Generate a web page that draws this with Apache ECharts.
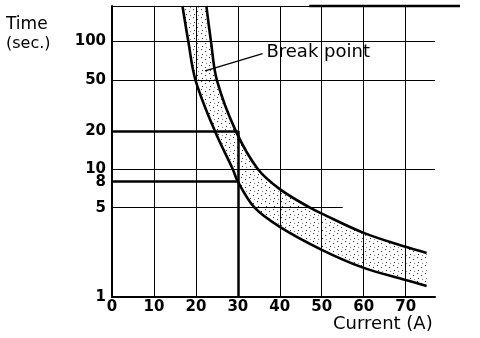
<!DOCTYPE html>
<html>
<head>
<meta charset="utf-8">
<script src="https://cdn.jsdelivr.net/npm/echarts@6/dist/echarts.min.js"></script>
<style>
  html, body { margin: 0; padding: 0; background: #fff; }
  #chart { width: 480px; height: 338px; }
</style>
</head>
<body>
<div id="chart"></div>
<script>
// Fuse / breaker trip band: time to trip versus current.
const currentTicks = [0, 10, 20, 30, 40, 50, 60, 70];
const timeTicks = [1, 5, 8, 10, 20, 50, 100];

// Fast (lower) and slow (upper) edges of the trip band: [current A, time s]
const lowerCurve = [[16.8, 190], [18.2, 100], [19.9, 50], [24.5, 20], [28.8, 10], [30, 8],
                    [34, 5], [40, 3.54], [50, 2.34], [60, 1.69], [70, 1.36], [75, 1.22]];
const upperCurve = [[22.5, 190], [23.6, 100], [25, 50], [29.5, 20], [34.8, 10], [40, 7.0],
                    [47.2, 5], [50, 4.5], [60, 3.18], [70, 2.47], [75, 2.21]];

// Break-point readings at 30 A
const breakCurrent = 30;
const breakTimeSlow = 20;
const breakTimeFast = 8;

const X_MIN = 0, X_MAX = 77, Y_MIN = 1, Y_MAX = 190;

const FONT = 'DejaVu Sans';
const INK = '#000';

// stipple texture for the band
const tex = document.createElement('canvas');
tex.width = 8; tex.height = 8;
const tctx = tex.getContext('2d');
tctx.fillStyle = '#333';
tctx.fillRect(1, 1, 1, 1);
tctx.fillRect(5, 3, 1, 1);
tctx.fillRect(2, 6, 1, 1);
tctx.fillStyle = '#888';
tctx.fillRect(6, 7, 1, 1);
const stipple = { image: tex, repeat: 'repeat' };

// grid segments
function hLine(y, x0, x1, w) {
  return [{ coord: [x0, y], lineStyle: { width: w } }, { coord: [x1, y] }];
}
function vLine(x, y0, y1, w) {
  return [{ coord: [x, y0], lineStyle: { width: w } }, { coord: [x, y1] }];
}
const gridLines = [];
[100, 50, 10].forEach(t => gridLines.push(hLine(t, X_MIN, X_MAX, 1)));
gridLines.push(hLine(Y_MAX, X_MIN, X_MAX, 1));
gridLines.push(hLine(5, X_MIN, 55, 1));
gridLines.push(hLine(breakTimeSlow, X_MIN, breakCurrent, 2.5));
gridLines.push(hLine(breakTimeFast, X_MIN, breakCurrent, 2.5));
currentTicks.filter(c => c > 0 && c !== breakCurrent)
  .forEach(c => gridLines.push(vLine(c, Y_MIN, Y_MAX, 1)));
gridLines.push(vLine(breakCurrent, breakTimeSlow, Y_MAX, 1));
gridLines.push(vLine(breakCurrent, Y_MIN, breakTimeSlow, 2.5));

const chart = echarts.init(document.getElementById('chart'), null, { renderer: 'canvas' });

const titles = [
  { type: 'text', left: 6, top: 16, style: { text: 'Time', font: '17px "DejaVu Sans"', fill: INK } },
  { type: 'text', left: 6, top: 36, style: { text: '(sec.)', font: '16px "DejaVu Sans"', fill: INK } },
  { type: 'text', left: 333, top: 315, style: { text: 'Current (A)', font: '18px "DejaVu Sans"', fill: INK } }
];

const option = {
  animation: false,
  backgroundColor: '#fff',
  grid: { left: 112, right: 45, top: 6, bottom: 41 },
  xAxis: {
    type: 'value', min: X_MIN, max: X_MAX,
    axisLine: { show: true, lineStyle: { color: INK, width: 2 } },
    axisTick: { show: false },
    splitLine: { show: false },
    axisLabel: {
      customValues: currentTicks,
      margin: 3,
      color: INK, fontFamily: FONT, fontWeight: 'bold', fontSize: 15
    }
  },
  yAxis: {
    type: 'log', logBase: 10, min: Y_MIN, max: Y_MAX,
    axisLine: { show: true, lineStyle: { color: INK, width: 2 } },
    axisTick: { show: false },
    splitLine: { show: false },
    minorSplitLine: { show: false },
    axisLabel: {
      customValues: timeTicks,
      margin: 6,
      color: INK, fontFamily: FONT, fontWeight: 'bold', fontSize: 15
    }
  },
  series: [
    {
      name: 'band',
      type: 'custom',
      coordinateSystem: 'cartesian2d',
      silent: true,
      z: 1,
      data: [[X_MIN, Y_MIN]],
      renderItem: function (params, api) {
        const pts = lowerCurve.map(p => api.coord(p))
          .concat(upperCurve.slice().reverse().map(p => api.coord(p)));
        return { type: 'polygon', shape: { points: pts }, style: { fill: stipple, stroke: null } };
      }
    },
    {
      name: 'grid',
      type: 'line',
      data: [],
      silent: true,
      z: 2,
      markLine: {
        silent: true,
        symbol: ['none', 'none'],
        label: { show: false },
        lineStyle: { color: INK, type: 'solid', width: 1 },
        data: gridLines
      }
    },
    {
      name: 'lower',
      type: 'line',
      data: lowerCurve,
      smooth: 0.35,
      showSymbol: false,
      z: 3,
      lineStyle: { color: INK, width: 2.6 }
    },
    {
      name: 'upper',
      type: 'line',
      data: upperCurve,
      smooth: 0.35,
      showSymbol: false,
      z: 3,
      lineStyle: { color: INK, width: 2.6 },
      markLine: {
        silent: true,
        symbol: ['circle', 'none'],
        symbolSize: [5, 0],
        lineStyle: { color: INK, type: 'solid', width: 1.2 },
        label: {
          show: true, position: 'end', distance: 4,
          formatter: 'Break point',
          color: INK, fontFamily: FONT, fontSize: 18
        },
        data: [[{ coord: [22.2, 59] }, { coord: [35.9, 80.5] }]]
      }
    }
  ],
  graphic: titles
};

chart.setOption(option);

// heavy frame segment along the top edge, extending past the plot on the right
const a = chart.convertToPixel({ gridIndex: 0 }, [47, Y_MAX]);
chart.setOption({
  graphic: titles.concat([
    { type: 'line', shape: { x1: a[0], y1: a[1], x2: 460, y2: a[1] }, style: { stroke: INK, lineWidth: 2.5 }, z: 10 }
  ])
});
</script>
</body>
</html>
